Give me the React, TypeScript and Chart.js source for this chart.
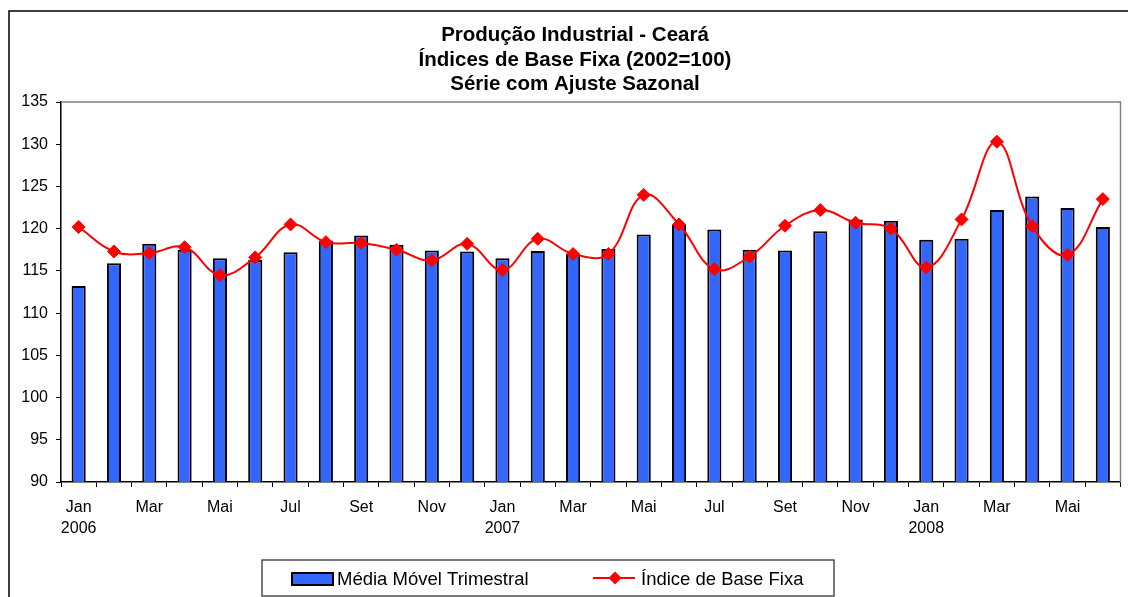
import React, { useEffect, useRef } from "react";
import { Chart, registerables } from "chart.js";

Chart.register(...registerables);

const months = ["Jan", "Fev", "Mar", "Abr", "Mai", "Jun", "Jul", "Ago", "Set", "Out", "Nov", "Dez"];
const years = ["2006", "2007", "2008"];
const categories: string[] = [
  "Jan 2006", "Fev 2006", "Mar 2006", "Abr 2006", "Mai 2006", "Jun 2006",
  "Jul 2006", "Ago 2006", "Set 2006", "Out 2006", "Nov 2006", "Dez 2006",
  "Jan 2007", "Fev 2007", "Mar 2007", "Abr 2007", "Mai 2007", "Jun 2007",
  "Jul 2007", "Ago 2007", "Set 2007", "Out 2007", "Nov 2007", "Dez 2007",
  "Jan 2008", "Fev 2008", "Mar 2008", "Abr 2008", "Mai 2008", "Jun 2008",
];

const mediaMovel = [
  113.2, 115.9, 118.2, 117.5, 116.5, 116.3, 117.2, 118.6, 119.2, 118.1, 117.4, 117.3,
  116.5, 117.35, 117.0, 117.6, 119.3, 120.5, 119.9, 117.5, 117.4, 119.7, 121.1, 120.95,
  118.7, 118.8, 122.2, 123.8, 122.45, 120.2,
];

const indiceBase = [
  120.2, 117.3, 117.1, 117.8, 114.5, 116.6, 120.5, 118.4, 118.3, 117.5, 116.25, 118.2,
  115.1, 118.8, 117.0, 117.0, 124.0, 120.5, 115.2, 116.7, 120.35, 122.2, 120.7, 120.0,
  115.4, 121.1, 130.3, 120.3, 116.9, 123.5,
];

const titleLines = [
  "Produção Industrial - Ceará",
  "Índices de Base Fixa (2002=100)",
  "Série com Ajuste Sazonal",
];
const seriesNames = ["Média Móvel Trimestral", "Índice de Base Fixa"];

const FONT = '"Liberation Sans", Arial, sans-serif';
const BLUE = "#3366FF";
const RED = "#FF0000";

const decorPlugin = {
  id: "decor",
  beforeDraw(chart: any) {
    const ctx = chart.ctx;
    ctx.save();
    ctx.fillStyle = "#fff";
    ctx.fillRect(0, 0, chart.width, chart.height);
    ctx.strokeStyle = "#000";
    ctx.lineWidth = 1.5;
    ctx.strokeRect(9, 11, chart.width + 10, chart.height + 10);
    // title
    ctx.fillStyle = "#000";
    ctx.font = `bold 20.5px ${FONT}`;
    ctx.textAlign = "center";
    ctx.textBaseline = "alphabetic";
    const base = [41, 65.5, 89.5];
    titleLines.forEach((t, i) => ctx.fillText(t, 575, base[i]));
    ctx.restore();
  },
  beforeDatasetsDraw(chart: any) {
    const { ctx, chartArea } = chart;
    ctx.save();
    ctx.strokeStyle = "#808080";
    ctx.lineWidth = 1.5;
    ctx.beginPath();
    ctx.moveTo(chartArea.left, chartArea.top);
    ctx.lineTo(chartArea.right, chartArea.top);
    ctx.lineTo(chartArea.right, chartArea.bottom);
    ctx.stroke();
    ctx.restore();
  },
  afterDraw(chart: any) {
    const ctx = chart.ctx;
    ctx.save();
    // legend box
    ctx.strokeStyle = "#222";
    ctx.lineWidth = 1.2;
    ctx.strokeRect(262, 560, 572, 36);
    // bar swatch
    ctx.fillStyle = BLUE;
    ctx.fillRect(292, 573, 41, 12);
    ctx.strokeStyle = "#000";
    ctx.lineWidth = 2;
    ctx.strokeRect(292, 573, 41, 12);
    ctx.fillStyle = "#000";
    ctx.font = `18.5px ${FONT}`;
    ctx.textAlign = "left";
    ctx.textBaseline = "alphabetic";
    ctx.fillText(seriesNames[0], 337, 585);
    // line swatch
    ctx.strokeStyle = RED;
    ctx.lineWidth = 2;
    ctx.beginPath();
    ctx.moveTo(593, 578);
    ctx.lineTo(635, 578);
    ctx.stroke();
    ctx.fillStyle = RED;
    ctx.beginPath();
    const cx = 615, cy = 578, r = 6.5;
    ctx.moveTo(cx - r, cy);
    ctx.lineTo(cx, cy - r);
    ctx.lineTo(cx + r, cy);
    ctx.lineTo(cx, cy + r);
    ctx.closePath();
    ctx.fill();
    ctx.fillStyle = "#000";
    ctx.fillText(seriesNames[1], 641, 585);
    ctx.restore();
  },
};

export default function App() {
  const ref = useRef<HTMLCanvasElement | null>(null);
  useEffect(() => {
    if (!ref.current) return;
    const chart = new Chart(ref.current, {
      type: "bar",
      data: {
        labels: categories,
        datasets: [
          {
            type: "line",
            label: seriesNames[1],
            data: indiceBase,
            borderColor: RED,
            backgroundColor: RED,
            borderWidth: 2,
            tension: 0.4,
            pointStyle: "rectRot",
            pointRadius: 6.5,
            pointBorderWidth: 1,
            pointBackgroundColor: RED,
            pointBorderColor: RED,
            fill: false,
          } as any,
          {
            type: "bar",
            label: seriesNames[0],
            data: mediaMovel,
            backgroundColor: BLUE,
            borderColor: "#000",
            borderWidth: 2,
            borderSkipped: false,
            barPercentage: 0.4,
            categoryPercentage: 1,
          } as any,
        ],
      },
      options: {
        responsive: false,
        animation: false,
        layout: { padding: { left: 0, top: 102, right: 6, bottom: 0 } },
        plugins: {
          legend: { display: false },
          title: { display: false },
          tooltip: { enabled: false },
        },
        scales: {
          x: {
            type: "category",
            offset: true,
            afterFit: (s: any) => { s.height = 115; },
            grid: {
              offset: true,
              drawOnChartArea: false,
              drawTicks: true,
              tickLength: 5,
              color: "#000",
              lineWidth: 1,
            },
            border: { display: true, color: "#000", width: 1.5 },
            ticks: {
              autoSkip: false,
              maxRotation: 0,
              minRotation: 0,
              padding: 10,
              color: "#000",
              font: { family: FONT, size: 16, lineHeight: 1.33 },
              callback: (_v: any, i: number) => {
                if (i % 2 !== 0) return "";
                const m = months[i % 12];
                if (i % 12 === 0) return [m, years[Math.floor(i / 12)]];
                return m;
              },
            },
          },
          y: {
            min: 90,
            max: 135,
            afterFit: (s: any) => { s.width = 61; },
            grid: {
              drawOnChartArea: false,
              drawTicks: true,
              tickLength: 5,
              color: "#000",
              lineWidth: 1,
            },
            border: { display: true, color: "#000", width: 1.5 },
            ticks: {
              stepSize: 5,
              padding: 8,
              color: "#000",
              font: { family: FONT, size: 16 },
            },
          },
        },
      },
      plugins: [decorPlugin],
    });
    return () => chart.destroy();
  }, []);
  return (
    <div style={{ position: "fixed", left: 0, top: 0, width: 1128, height: 597 }}>
      <canvas ref={ref} width={1128} height={597} style={{ display: "block" }} />
    </div>
  );
}
